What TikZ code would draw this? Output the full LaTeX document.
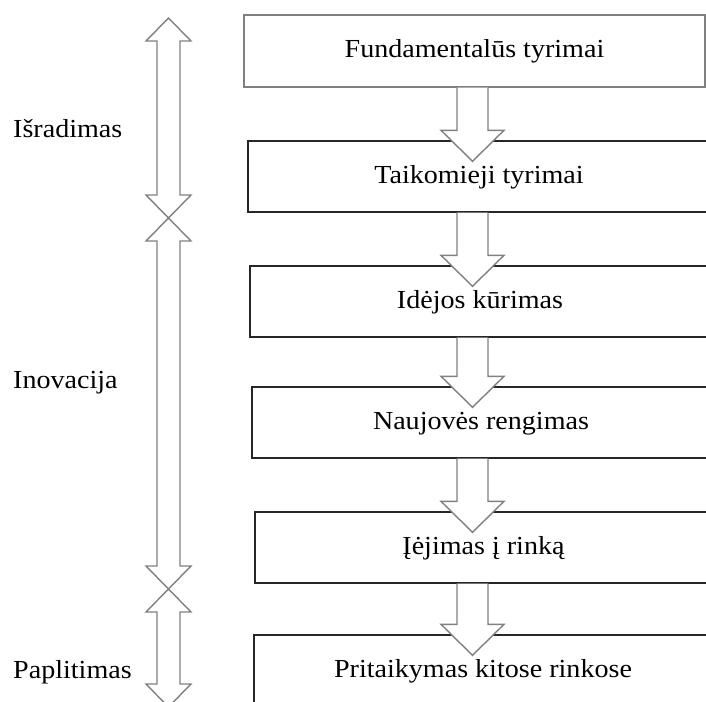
\documentclass[tikz,border=0pt]{standalone}
\usepackage{fontspec}
\setmainfont{Liberation Serif}[FakeStretch=1.08]
\usetikzlibrary{calc}
\definecolor{arrowgray}{HTML}{808080}
\definecolor{boxline}{HTML}{262626}

\tikzset{
  stage/.style={draw=boxline, line width=1.4pt, fill=white, rectangle,
    inner sep=0pt, minimum height=71pt,
    font=\fontsize{26}{30}\selectfont, text height=19.5pt, text depth=6.5pt},
  firststage/.style={stage, draw=arrowgray},
  phase/.style={anchor=base west, inner sep=0pt, font=\fontsize{26}{30}\selectfont},
  flowstyle/.style={draw=arrowgray, fill=white, line width=1.4pt, line join=miter},
  spanstyle/.style={draw=arrowgray, fill=white, line width=1.4pt, line join=miter}
}

% hollow block arrow from the bottom of one stage into the top of the next
\newcommand{\flowarrow}[2]{%
  \filldraw[flowstyle] let \p1=(#1.south -| axis), \p2=($(#2.north -| axis)+(0,21)$) in
    (\x1-15.5pt,\y1) -- (\x1-15.5pt,\y2+31pt) -- (\x1-31.5pt,\y2+31pt) -- (\x2,\y2)
    -- (\x1+31.5pt,\y2+31pt) -- (\x1+15.5pt,\y2+31pt) -- (\x1+15.5pt,\y1);}

% hollow double-headed arrow spanning a phase
\newcommand{\spanarrow}[2]{%
  \filldraw[spanstyle] let \p1=(#1), \p2=(#2) in
    (\x1,\y1) -- (\x1+22.5pt,\y1-23pt) -- (\x1+11.5pt,\y1-23pt) -- (\x1+11.5pt,\y2+23pt)
    -- (\x1+22.5pt,\y2+23pt) -- (\x2,\y2) -- (\x1-22.5pt,\y2+23pt) -- (\x1-11.5pt,\y2+23pt)
    -- (\x1-11.5pt,\y1-23pt) -- (\x1-22.5pt,\y1-23pt) -- cycle;}

\begin{document}
\begin{tikzpicture}[x=1pt, y=-1pt]
  \path[use as bounding box] (0,0) rectangle (706,701);
  \clip (0,0) rectangle (706,701);

  \coordinate (axis) at (472.5,0);

  % stages
  \node[firststage, minimum width=461pt, minimum height=72pt] (b1) at (474.5,51) {Fundamentalūs tyrimai};
  \node[stage, minimum width=462pt] (b2) at (479,176.5) {Taikomieji tyrimai};
  \node[stage, minimum width=460pt] (b3) at (480,301.5) {Idėjos kūrimas};
  \node[stage, minimum width=458pt] (b4) at (481,422.5) {Naujovės rengimas};
  \node[stage, minimum width=457pt] (b5) at (483.5,547.5) {Įėjimas į rinką};
  \node[stage, minimum width=458pt] (b6) at (483,670.5) {Pritaikymas kitose rinkose};

  % flow between stages
  \flowarrow{b1}{b2}
  \flowarrow{b2}{b3}
  \flowarrow{b3}{b4}
  \flowarrow{b4}{b5}
  \flowarrow{b5}{b6}

  % phase spans
  \coordinate (s0) at (168.5,18);
  \coordinate (s1) at (168.5,218);
  \coordinate (s2) at (168.5,589);
  \coordinate (s3) at (168.5,707);
  \spanarrow{s0}{s1}
  \spanarrow{s1}{s2}
  \spanarrow{s2}{s3}

  % phase labels
  \node[phase] (p1) at (13,137) {Išradimas};
  \node[phase] (p2) at (13,388) {Inovacija};
  \node[phase] (p3) at (13,678) {Paplitimas};
\end{tikzpicture}
\end{document}
